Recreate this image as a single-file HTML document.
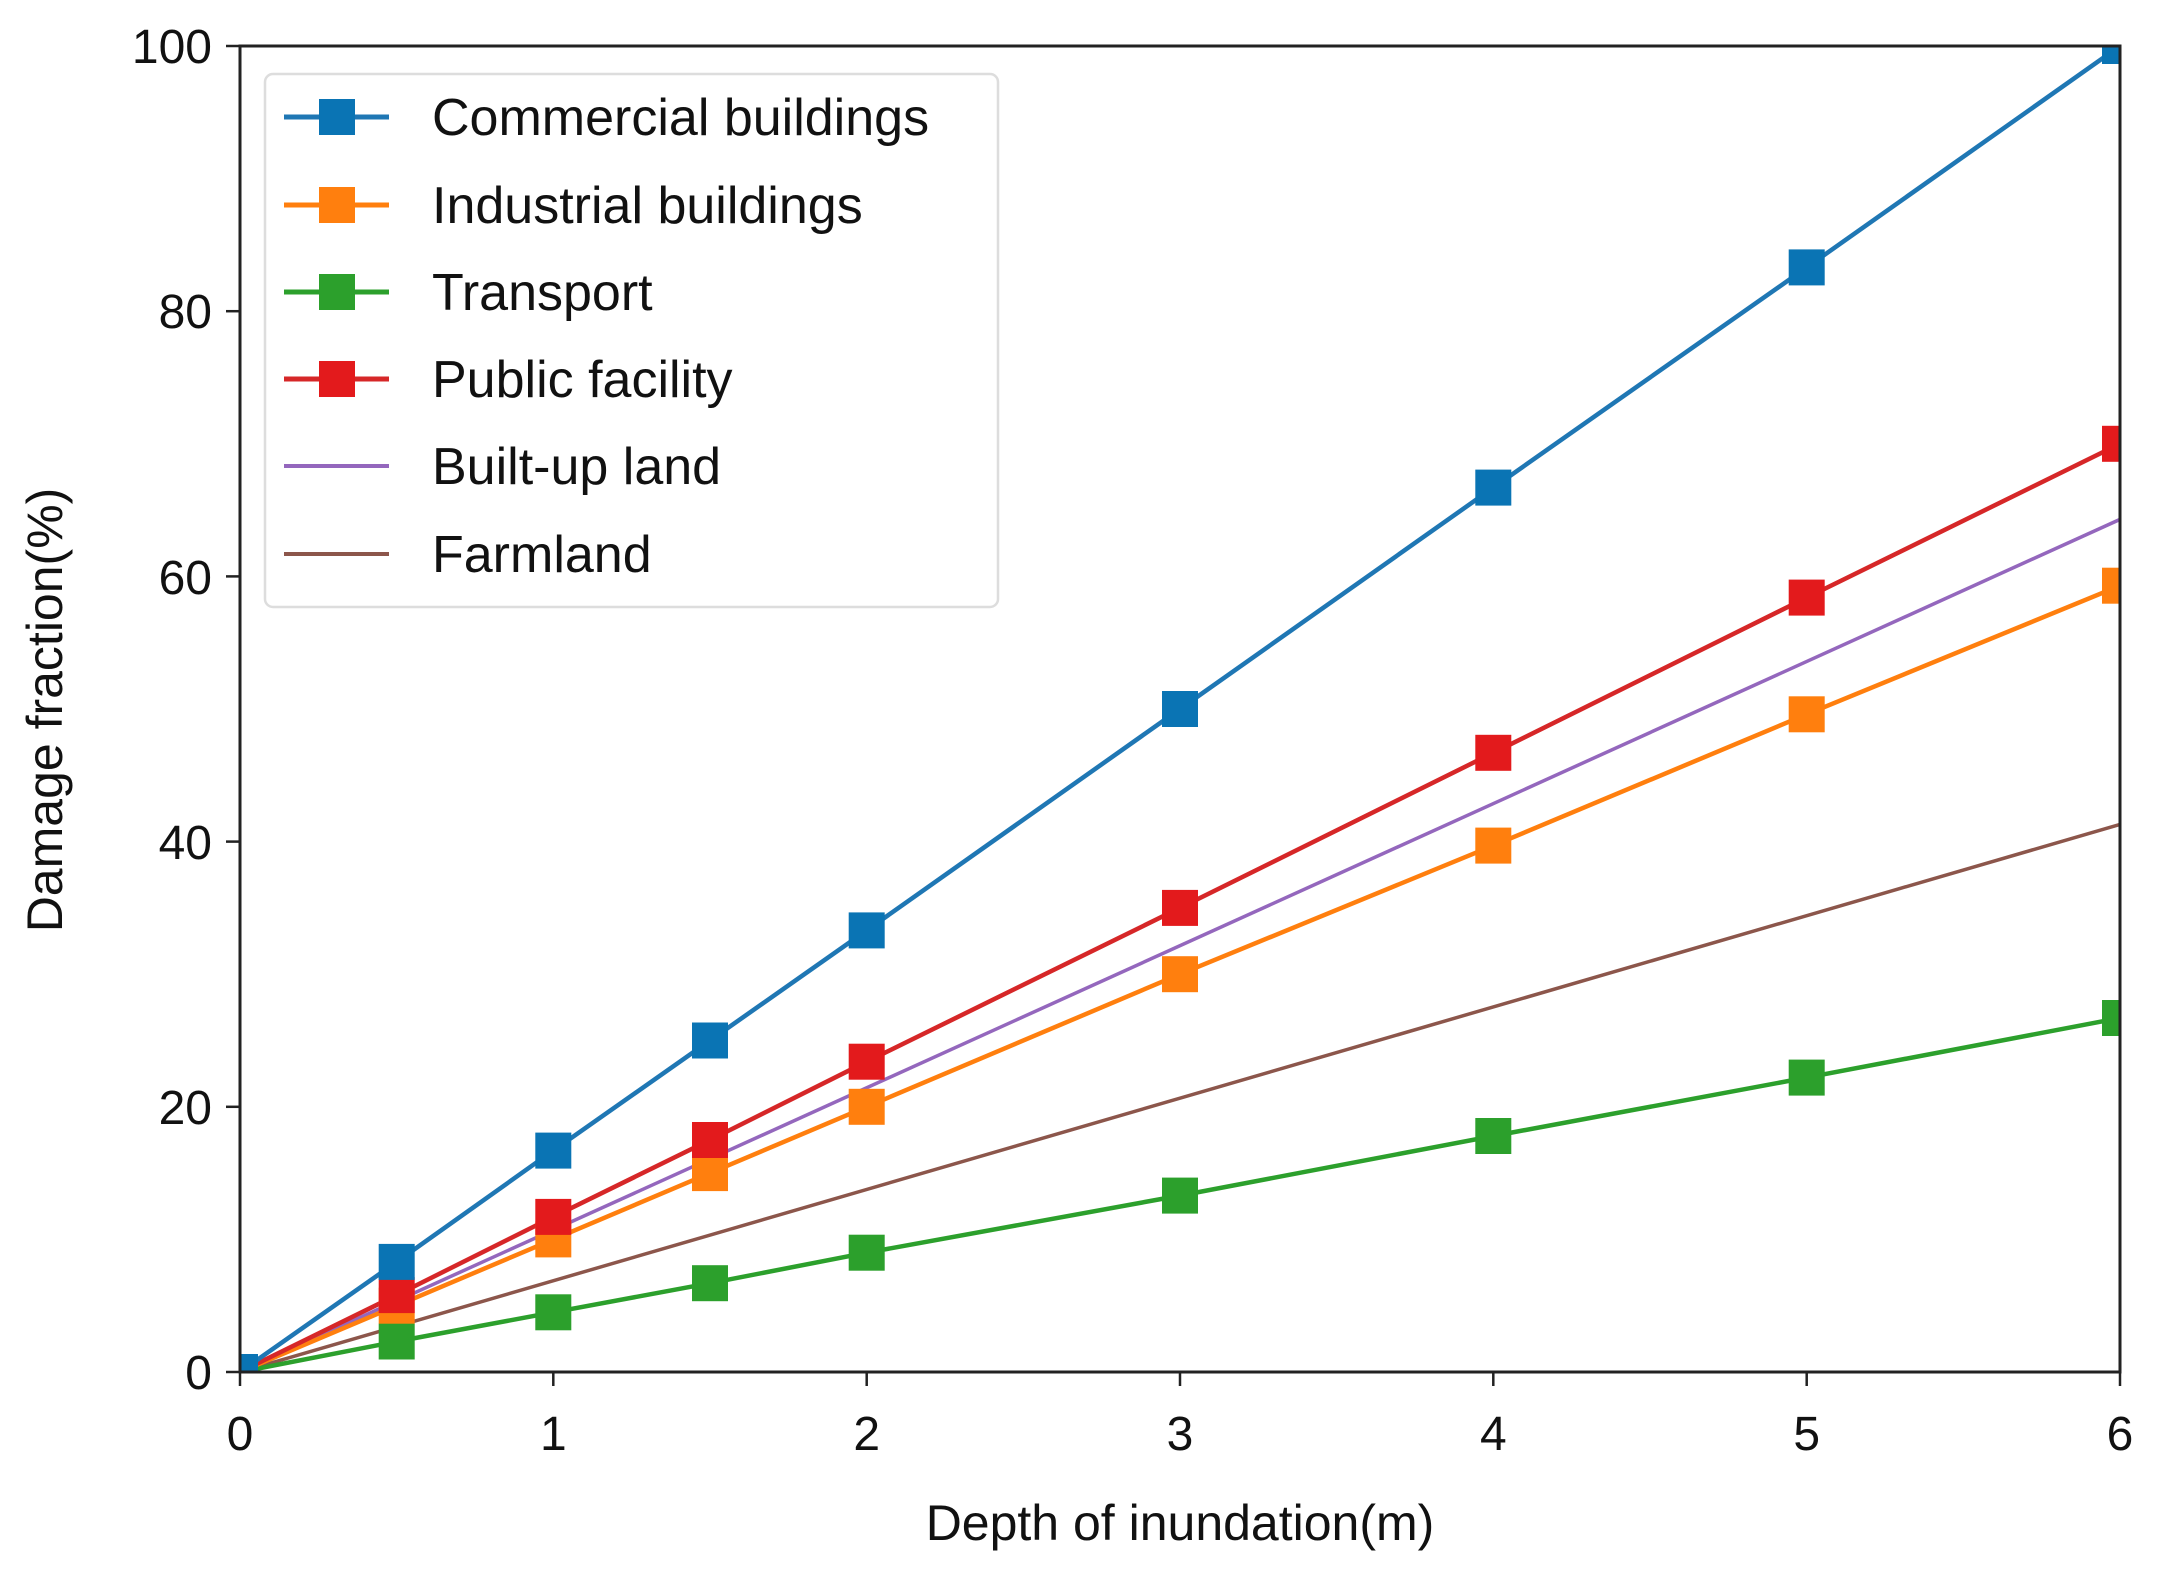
<!DOCTYPE html>
<html><head><meta charset="utf-8"><style>html,body{margin:0;padding:0;background:#fff}</style></head>
<body>
<svg width="2157" height="1578" viewBox="0 0 2157 1578" xmlns="http://www.w3.org/2000/svg" font-family="Liberation Sans, DejaVu Sans, sans-serif">
<defs><clipPath id="c"><rect x="240" y="46" width="1880" height="1326"/></clipPath></defs>
<rect width="2157" height="1578" fill="#fff"/>
<g clip-path="url(#c)" stroke-linejoin="round" fill="none">
<!-- x: 240 + 313.33*v ; y: 1372 - 13.26*v -->
<polyline stroke="#8c564b" stroke-width="3.5" points="240,1372 2120,824.4"/>
<polyline stroke="#9467bd" stroke-width="3.5" points="240,1372 2120,519.4"/>
<polyline stroke="#2ca02c" stroke-width="4.5" points="240,1372 396.7,1341.5 553.3,1312.3 710,1283.2 866.7,1252.7 1180,1195.6 1493.3,1136 1806.7,1077.6 2120,1018"/>
<polyline stroke="#ff7f0e" stroke-width="4.5" points="240,1372 396.7,1305.7 553.3,1239.4 710,1173.1 866.7,1106.8 1180,974.2 1493.3,845.6 1806.7,714.3 2120,585.7"/>
<polyline stroke="#d62728" stroke-width="4.5" points="240,1372 396.7,1295.1 553.3,1216.9 710,1140 866.7,1061.7 1180,907.9 1493.3,752.8 1806.7,597.6 2120,443.8"/>
<polyline stroke="#1f77b4" stroke-width="4.5" points="240,1372 396.7,1261.9 553.3,1150.6 710,1040.5 866.7,930.4 1180,709 1493.3,487.6 1806.7,267.4 2120,46"/>
<g fill="#2ca02c"><rect x="222" y="1354" width="36" height="36"/><rect x="378.7" y="1323.5" width="36" height="36"/><rect x="535.3" y="1294.3" width="36" height="36"/><rect x="692" y="1265.2" width="36" height="36"/><rect x="848.7" y="1234.7" width="36" height="36"/><rect x="1162" y="1177.6" width="36" height="36"/><rect x="1475.3" y="1118" width="36" height="36"/><rect x="1788.7" y="1059.6" width="36" height="36"/><rect x="2102" y="1000" width="36" height="36"/></g>
<g fill="#ff7f0e"><rect x="222" y="1354" width="36" height="36"/><rect x="378.7" y="1287.7" width="36" height="36"/><rect x="535.3" y="1221.4" width="36" height="36"/><rect x="692" y="1155.1" width="36" height="36"/><rect x="848.7" y="1088.8" width="36" height="36"/><rect x="1162" y="956.2" width="36" height="36"/><rect x="1475.3" y="827.6" width="36" height="36"/><rect x="1788.7" y="696.3" width="36" height="36"/><rect x="2102" y="567.7" width="36" height="36"/></g>
<g fill="#e31a1c"><rect x="222" y="1354" width="36" height="36"/><rect x="378.7" y="1277.1" width="36" height="36"/><rect x="535.3" y="1198.9" width="36" height="36"/><rect x="692" y="1122" width="36" height="36"/><rect x="848.7" y="1043.7" width="36" height="36"/><rect x="1162" y="889.9" width="36" height="36"/><rect x="1475.3" y="734.8" width="36" height="36"/><rect x="1788.7" y="579.6" width="36" height="36"/><rect x="2102" y="425.8" width="36" height="36"/></g>
<g fill="#0a74b4"><rect x="222" y="1354" width="36" height="36"/><rect x="378.7" y="1243.9" width="36" height="36"/><rect x="535.3" y="1132.6" width="36" height="36"/><rect x="692" y="1022.5" width="36" height="36"/><rect x="848.7" y="912.4" width="36" height="36"/><rect x="1162" y="691" width="36" height="36"/><rect x="1475.3" y="469.6" width="36" height="36"/><rect x="1788.7" y="249.4" width="36" height="36"/><rect x="2102" y="28" width="36" height="36"/></g>
</g>
<rect x="240" y="46" width="1880" height="1326" fill="none" stroke="#222" stroke-width="3"/>
<g stroke="#222" stroke-width="2.5">
<line x1="226" y1="1372" x2="240" y2="1372"/><line x1="226" y1="1106.8" x2="240" y2="1106.8"/><line x1="226" y1="841.6" x2="240" y2="841.6"/><line x1="226" y1="576.4" x2="240" y2="576.4"/><line x1="226" y1="311.2" x2="240" y2="311.2"/><line x1="226" y1="46" x2="240" y2="46"/>
<line x1="240" y1="1372" x2="240" y2="1386"/><line x1="553.3" y1="1372" x2="553.3" y2="1386"/><line x1="866.7" y1="1372" x2="866.7" y2="1386"/><line x1="1180" y1="1372" x2="1180" y2="1386"/><line x1="1493.3" y1="1372" x2="1493.3" y2="1386"/><line x1="1806.7" y1="1372" x2="1806.7" y2="1386"/><line x1="2120" y1="1372" x2="2120" y2="1386"/>
</g>
<g font-size="48" fill="#111" text-anchor="end">
<text x="212" y="1389">0</text><text x="212" y="1124">20</text><text x="212" y="859">40</text><text x="212" y="594">60</text><text x="212" y="328">80</text><text x="212" y="63">100</text>
</g>
<g font-size="48" fill="#111" text-anchor="middle">
<text x="240" y="1450">0</text><text x="553.3" y="1450">1</text><text x="866.7" y="1450">2</text><text x="1180" y="1450">3</text><text x="1493.3" y="1450">4</text><text x="1806.7" y="1450">5</text><text x="2120" y="1450">6</text>
<text x="1180" y="1540" font-size="50">Depth of inundation(m)</text>
<text transform="translate(62,710) rotate(-90)" font-size="50">Damage fraction(%)</text>
</g>
<rect x="265" y="74" width="733" height="533" rx="8" fill="#fff" stroke="#ddd" stroke-width="2.5"/>
<g stroke-width="5">
<line x1="284" y1="117" x2="389" y2="117" stroke="#1f77b4"/><rect x="319" y="99" width="36" height="36" fill="#0a74b4" stroke="none"/>
<line x1="284" y1="205" x2="389" y2="205" stroke="#ff7f0e"/><rect x="319" y="187" width="36" height="36" fill="#ff7f0e" stroke="none"/>
<line x1="284" y1="292" x2="389" y2="292" stroke="#2ca02c"/><rect x="319" y="274" width="36" height="36" fill="#2ca02c" stroke="none"/>
<line x1="284" y1="379" x2="389" y2="379" stroke="#d62728"/><rect x="319" y="361" width="36" height="36" fill="#e31a1c" stroke="none"/>
<line x1="284" y1="466" x2="389" y2="466" stroke="#9467bd" stroke-width="4"/>
<line x1="284" y1="554" x2="389" y2="554" stroke="#8c564b" stroke-width="4"/>
</g>
<g font-size="52" fill="#111">
<text x="432" y="135">Commercial buildings</text>
<text x="432" y="223">Industrial buildings</text>
<text x="432" y="310">Transport</text>
<text x="432" y="397">Public facility</text>
<text x="432" y="484">Built-up land</text>
<text x="432" y="572">Farmland</text>
</g>
</svg>
</body></html>
